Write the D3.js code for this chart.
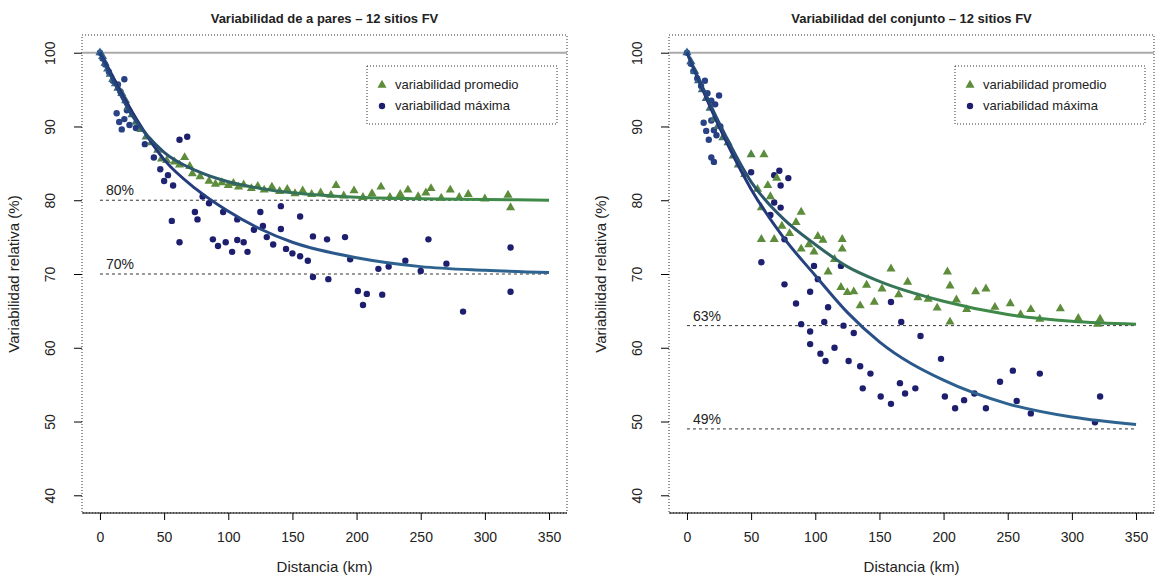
<!DOCTYPE html>
<html>
<head>
<meta charset="utf-8">
<script src="https://cdn.jsdelivr.net/npm/d3@7"></script>
<style>
  body { margin: 0; background: #fff; }
  text { font-family: "Liberation Sans", Arial, sans-serif; fill: #222; }
</style>
</head>
<body>
<script>
// ---- data ----
var titles = ["Variabilidad de a pares \u2013 12 sitios FV", "Variabilidad del conjunto \u2013 12 sitios FV"];
var legendLabels = ["variabilidad promedio", "variabilidad m\u00e1xima"];
var xTicks = [0, 50, 100, 150, 200, 250, 300, 350];
var yTicks = [40, 50, 60, 70, 80, 90, 100];

// left panel, scatter (distance km, relative variability %)
var leftPromedio = [[0,100],[2,99.5],[4,98.6],[6,97.8],[8,97.1],[10,96.4],[12,95.8],[14,95.2],[17,94.5],[20,93.5],[22,92.6],[25,91.6],[28,90.6],[32,89.6],[36,88.6],[40,87.8],[45,86.8],[48,85.6],[52,85.4],[58,85.2],[62,84.8],[66,85.8],[70,84.6],[72,83.6],[78,83.2],[85,82.6],[90,82.2],[95,82.4],[100,82.0],[104,82.3],[108,81.8],[112,82.1],[118,81.6],[123,81.9],[128,81.4],[134,81.8],[140,81.2],[146,81.5],[152,80.9],[158,81.3],[165,80.8],[172,81.0],[180,80.7],[184,82.0],[190,80.6],[198,81.3],[205,80.4],[212,80.9],[219,81.8],[226,80.4],[234,80.8],[240,81.4],[248,80.5],[254,81.0],[258,81.6],[266,80.3],[273,81.4],[280,80.4],[287,80.8],[300,80.2],[318,80.7],[320,79.0]];
var leftMaxima = [[0,100],[2,99.2],[4,98.4],[7,97.4],[10,96.2],[14,95.7],[16,94.7],[19,96.4],[13,91.8],[15,90.6],[17,89.6],[19,91.0],[21,92.2],[23,90.2],[28,89.8],[35,87.6],[42,85.8],[47,84.2],[50,82.6],[53,83.4],[57,82.0],[62,88.2],[68,88.6],[56,77.2],[62,74.3],[74,78.4],[76,77.4],[80,80.5],[85,79.6],[88,74.7],[92,73.8],[98,74.3],[103,73.0],[107,74.6],[96,78.4],[107,77.4],[112,74.3],[115,73.0],[120,76.0],[125,78.4],[127,76.5],[130,75.0],[135,74.0],[141,79.2],[141,76.1],[145,73.4],[150,72.8],[156,77.8],[156,72.4],[162,71.8],[166,75.1],[166,69.6],[177,74.7],[178,69.3],[191,75.0],[195,72.0],[201,67.7],[205,65.8],[208,67.3],[217,70.7],[220,67.2],[225,71.0],[238,71.8],[250,70.4],[256,74.7],[270,71.4],[283,64.9],[320,73.6],[320,67.6]];

// right panel, scatter
var rightPromedio = [[0,100],[3,98.8],[6,97.5],[9,96.2],[12,95.0],[15,93.8],[18,92.5],[21,91.0],[24,90.0],[28,88.5],[32,87.8],[36,86.0],[40,84.8],[45,83.5],[50,86.2],[60,86.2],[55,81.5],[63,82.0],[58,79.0],[65,80.5],[70,83.0],[58,74.7],[68,74.7],[74,76.5],[80,75.5],[85,77.0],[89,78.4],[89,73.4],[95,74.0],[99,73.0],[102,75.1],[106,74.6],[110,70.3],[115,72.0],[121,74.7],[121,73.4],[120,68.2],[125,67.5],[130,67.6],[135,65.7],[140,68.5],[146,66.2],[152,68.0],[159,70.7],[165,67.2],[172,68.9],[180,66.8],[188,66.6],[195,65.4],[203,70.3],[205,68.4],[205,63.5],[210,66.5],[218,65.2],[225,67.6],[233,68.0],[240,65.5],[252,66.0],[260,64.5],[268,65.2],[275,63.9],[291,65.3],[305,64.0],[322,63.9],[320,63.2]];
var rightMaxima = [[0,100],[3,98.5],[5,97.5],[8,96.5],[11,95.5],[14,96.2],[16,94.5],[19,93.5],[22,93.0],[25,94.2],[13,90.5],[15,89.4],[17,88.2],[19,90.8],[21,89.5],[23,88.8],[26,90.0],[19,85.8],[21,85.2],[50,83.8],[68,83.4],[72,84.0],[79,83.0],[73,82.0],[68,79.7],[73,79.0],[65,78.0],[76,74.7],[58,71.6],[76,68.6],[85,66.0],[99,71.1],[102,69.3],[96,67.6],[110,65.5],[120,71.1],[89,63.2],[107,63.5],[122,63.0],[130,62.0],[159,66.2],[167,63.5],[182,61.6],[96,62.2],[96,60.5],[104,59.2],[108,58.2],[115,60.0],[126,58.2],[135,57.5],[143,56.5],[137,54.5],[151,53.4],[159,52.4],[166,55.2],[170,53.8],[178,54.5],[198,58.5],[201,53.4],[209,51.8],[216,52.9],[224,53.8],[233,51.8],[244,55.4],[254,56.9],[257,52.8],[268,51.1],[275,56.5],[318,49.9],[322,53.4]];

// fitted curves, read at fixed distances
var curveDist = [0, 25, 50, 75, 100, 125, 150, 200, 250, 300, 350];
var leftPromedioFit = [100, 91.5, 86.5, 84.0, 82.5, 81.6, 81.0, 80.4, 80.2, 80.1, 80.0];
var leftMaximaFit = [100, 92.0, 85.5, 81.5, 78.5, 76.1, 74.3, 72.2, 71.0, 70.5, 70.2];
var rightPromedioFit = [100, 90.5, 82.5, 77.5, 74.0, 71.0, 69.0, 66.3, 64.5, 63.6, 63.2];
var rightMaximaFit = [100, 90.0, 81.5, 75.0, 69.8, 64.8, 60.8, 55.6, 52.4, 50.6, 49.6];

// asymptote reference lines
var leftRefs = [80, 70];
var rightRefs = [63, 49];

var panels = [
    { title: titles[0], prom: leftPromedio, max: leftMaxima, promFit: leftPromedioFit, maxFit: leftMaximaFit, refs: leftRefs, left: 82, legendX: 367, xlabel: "Distancia (km)" },
    { title: titles[1], prom: rightPromedio, max: rightMaxima, promFit: rightPromedioFit, maxFit: rightMaximaFit, refs: rightRefs, left: 669, legendX: 955, xlabel: "Distancia (km)" }
];

var W = 1155, H = 579;
var plotW = 485, plotTop = 35, plotBottom = 513;
var green = "#5d8c3a", navy = "#1d1f6e";

var svg = d3.select("body").append("svg")
    .attr("width", W)
    .attr("height", H);

var defs = svg.append("defs");

panels.forEach(function (p, k) {
    var x = d3.scaleLinear().domain([-14, 364]).range([p.left, p.left + plotW]);
    var y = d3.scaleLinear().domain([37.6, 102.4]).range([plotBottom, plotTop]);
    var g = svg.append("g");

    // gradients for the fitted curves
    function grad(id, c1, c2) {
        var lg = defs.append("linearGradient").attr("id", id)
            .attr("gradientUnits", "userSpaceOnUse")
            .attr("x1", x(0)).attr("x2", x(220)).attr("y1", 0).attr("y2", 0);
        lg.append("stop").attr("offset", "0%").attr("stop-color", c1);
        lg.append("stop").attr("offset", "100%").attr("stop-color", c2);
    }
    grad("gp" + k, "#23407e", "#3f8a48");
    grad("gm" + k, "#1f2a74", "#2e6390");

    // box
    g.append("rect")
        .attr("x", p.left).attr("y", plotTop)
        .attr("width", plotW).attr("height", plotBottom - plotTop)
        .attr("fill", "none").attr("stroke", "#333")
        .attr("stroke-width", 1).attr("stroke-dasharray", "1,2");

    // 100% line
    g.append("line")
        .attr("x1", p.left).attr("x2", p.left + plotW)
        .attr("y1", y(100)).attr("y2", y(100))
        .attr("stroke", "#aaa").attr("stroke-width", 2);

    // x axis
    var xAxis = g.append("g").attr("transform", "translate(0," + plotBottom + ")")
        .call(d3.axisBottom(x).tickValues(xTicks).tickSize(7).tickPadding(12));
    xAxis.select(".domain").attr("d", "M" + p.left + ",0H" + (p.left + plotW));
    xAxis.selectAll("text").style("font-size", "14px").attr("fill", "#222");

    // y axis
    var yAxis = g.append("g").attr("transform", "translate(" + p.left + ",0)")
        .call(d3.axisLeft(y).tickValues(yTicks).tickSize(8).tickPadding(4));
    yAxis.select(".domain").remove();
    yAxis.selectAll(".tick text")
        .style("font-size", "14px").attr("fill", "#222")
        .attr("text-anchor", "middle")
        .attr("x", 0).attr("dy", 0)
        .attr("transform", "translate(-27,0) rotate(-90)");

    // titles
    g.append("text")
        .attr("x", p.left + plotW / 2).attr("y", 23)
        .attr("text-anchor", "middle")
        .style("font-size", "13px").style("font-weight", "bold")
        .text(p.title);
    g.append("text")
        .attr("x", p.left + plotW / 2).attr("y", 572)
        .attr("text-anchor", "middle")
        .style("font-size", "15px")
        .text(p.xlabel);
    g.append("text")
        .attr("transform", "translate(" + (p.left - 63) + "," + ((plotTop + plotBottom) / 2) + ") rotate(-90)")
        .attr("text-anchor", "middle")
        .style("font-size", "15px")
        .text("Variabilidad relativa (%)");

    // reference asymptote lines
    p.refs.forEach(function (r) {
        g.append("line")
            .attr("x1", x(0)).attr("x2", x(350))
            .attr("y1", y(r)).attr("y2", y(r))
            .attr("stroke", "#333").attr("stroke-width", 1)
            .attr("stroke-dasharray", "3,3");
        g.append("text")
            .attr("x", x(0) + 6).attr("y", y(r) - 5)
            .style("font-size", "14px")
            .text(r + "%");
    });

    // scatter: promedio triangles, maxima dots
    var promColor = d3.scaleLinear().domain([0, 60]).range(["#2f5f8a", green]).clamp(true);
    var maxColor = d3.scaleLinear().domain([0, 60]).range(["#2b4f8e", navy]).clamp(true);
    var tri = d3.symbol().type(d3.symbolTriangle).size(36);

    g.selectAll(".pm").data(p.max).enter().append("circle")
        .attr("cx", function (d) { return x(d[0]); })
        .attr("cy", function (d) { return y(d[1]); })
        .attr("r", 3.2)
        .attr("fill", function (d) { return maxColor(d[0]); });

    g.selectAll(".pp").data(p.prom).enter().append("path")
        .attr("d", tri)
        .attr("transform", function (d) { return "translate(" + x(d[0]) + "," + y(d[1]) + ")"; })
        .attr("fill", function (d) { return promColor(d[0]); });

    // fitted curves
    var line = d3.line()
        .x(function (d, i) { return x(curveDist[i]); })
        .y(function (d) { return y(d); })
        .curve(d3.curveMonotoneX);

    g.append("path").attr("d", line(p.maxFit))
        .attr("fill", "none").attr("stroke", "url(#gm" + k + ")").attr("stroke-width", 3);
    g.append("path").attr("d", line(p.promFit))
        .attr("fill", "none").attr("stroke", "url(#gp" + k + ")").attr("stroke-width", 3);

    // legend
    var lg = g.append("g").attr("transform", "translate(" + p.legendX + ",66)");
    lg.append("rect").attr("width", 190).attr("height", 58)
        .attr("fill", "#fff").attr("stroke", "#333")
        .attr("stroke-dasharray", "1,2");
    lg.append("path").attr("d", tri).attr("transform", "translate(15,19)").attr("fill", green);
    lg.append("circle").attr("cx", 15).attr("cy", 40).attr("r", 3.2).attr("fill", navy);
    legendLabels.forEach(function (t, i) {
        lg.append("text").attr("x", 28).attr("y", 23 + i * 21)
            .style("font-size", "13px").text(t);
    });
});
</script>
</body>
</html>
